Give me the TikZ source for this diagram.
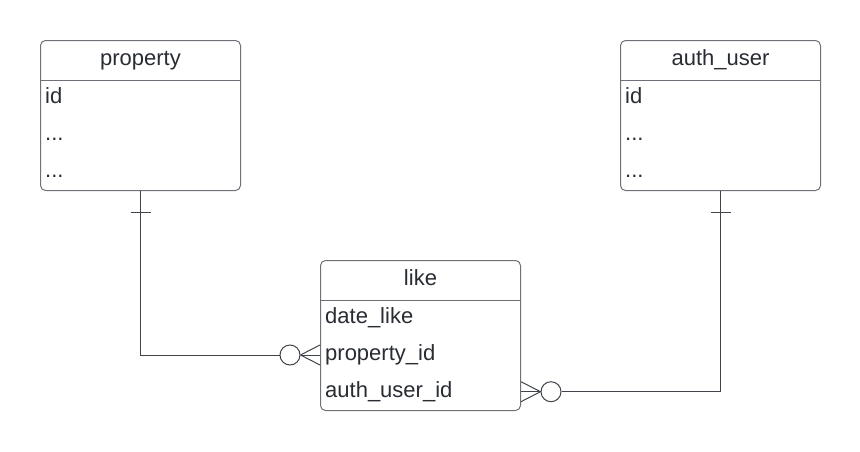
\documentclass[tikz,border=0pt]{standalone}
\usepackage{fontspec}
\setmainfont{Liberation Sans}
\usepackage{tikz}
\usetikzlibrary{positioning, calc, arrows.meta}

\definecolor{boxline}{HTML}{6E7177}
\definecolor{txt}{HTML}{282C33}
\definecolor{link}{HTML}{3F444B}

\tikzset{
    table/.style={draw=boxline, line width=1pt, rounded corners=5pt,
        minimum width=200pt, minimum height=150pt, inner sep=0pt, anchor=north west},
    title/.style={text=txt, font=\fontsize{22}{26}\selectfont, inner sep=0pt,
        minimum width=200pt, minimum height=40pt, text height=16pt, text depth=5pt, anchor=north},
    field/.style={text=txt, font=\fontsize{22}{26}\selectfont, inner sep=0pt,
        text height=16pt, text depth=5pt, anchor=west},
    link/.style={draw=link, line width=1pt},
    optional/.style={circle, draw=link, line width=1pt, fill=white,
        minimum size=20pt, inner sep=0pt},
}

\begin{document}
\begin{tikzpicture}[x=1pt,y=-1pt]
        \useasboundingbox (0,0) rectangle (860,451);

        % ==========================================
        % property table (top left)
        % ==========================================
        \node[table] (property) at (40,40) {};
        \node[title] (property-title) at (property.north) {property};
        \draw[boxline, line width=1pt] (property.west |- property-title.south) -- (property.east |- property-title.south);
        \node[field] (property-id) at (45,98.3) {id};
        \node[field] (property-f2) at (45,135) {...};
        \node[field] (property-f3) at (45,171.7) {...};

        % ==========================================
        % auth_user table (top right)
        % ==========================================
        \node[table] (auth) at (620,40) {};
        \node[title] (auth-title) at (auth.north) {auth\_user};
        \draw[boxline, line width=1pt] (auth.west |- auth-title.south) -- (auth.east |- auth-title.south);
        \node[field] (auth-id) at (625,98.3) {id};
        \node[field] (auth-f2) at (625,135) {...};
        \node[field] (auth-f3) at (625,171.7) {...};

        % ==========================================
        % like table (middle)
        % ==========================================
        \node[table] (like) at (320,260) {};
        \node[title] (like-title) at (like.north) {like};
        \draw[boxline, line width=1pt] (like.west |- like-title.south) -- (like.east |- like-title.south);
        \node[field] (like-date) at (325,318.3) {date\_like};
        \node[field] (like-prop) at (325,355) {property\_id};
        \node[field] (like-auth) at (325,391.7) {auth\_user\_id};

        % ==========================================
        % Relations
        % ==========================================
        % property 1 -- 0..n like
        \coordinate (prop-end) at (like.west |- like-prop);
        \node[optional] (prop-circ) at ($(prop-end)+(-30,0)$) {};
        \draw[link] (property.south) |- (prop-circ.west);
        \draw[link] ($(property.south)+(-10,21)$) -- ($(property.south)+(10,21)$);
        \foreach \dy in {-10,0,10} {
            \draw[link] (prop-circ.east) -- ($(prop-end)+(0,\dy)$);
        }

        % auth_user 1 -- 0..n like
        \coordinate (auth-end) at (like.east |- like-auth);
        \node[optional] (auth-circ) at ($(auth-end)+(30,0)$) {};
        \draw[link] (auth-circ.east) -| (auth.south);
        \draw[link] ($(auth.south)+(-10,21)$) -- ($(auth.south)+(10,21)$);
        \foreach \dy in {-10,0,10} {
            \draw[link] (auth-circ.west) -- ($(auth-end)+(0,\dy)$);
        }

\end{tikzpicture}
\end{document}
